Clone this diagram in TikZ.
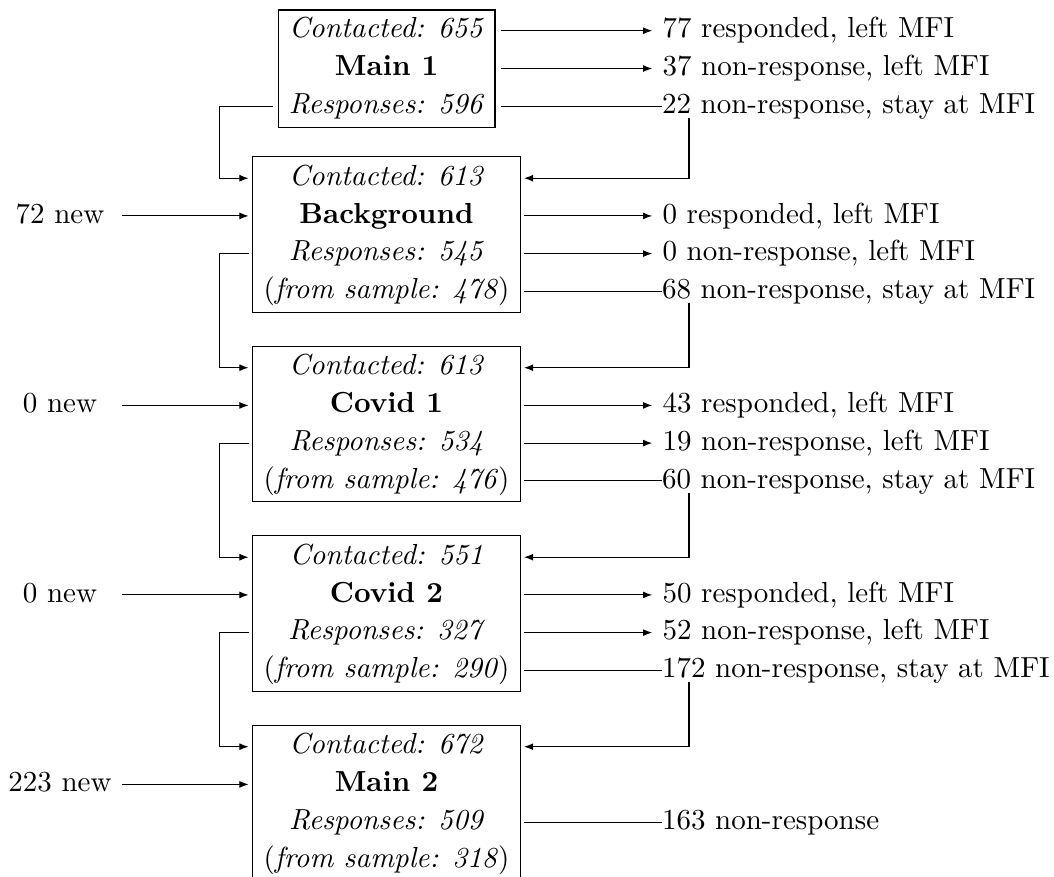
\documentclass[tikz,border=0pt]{standalone}
\usetikzlibrary{arrows.meta,calc}
\begin{document}
\begin{tikzpicture}[x=0.34483pt,y=-0.34483pt,
  >={Latex[length=3.2pt,width=2.4pt]},
  box/.style={draw, line width=0.4pt, inner sep=0pt, minimum width=92.59pt, minimum height=53.62pt},
  firstbox/.style={draw, line width=0.4pt, inner sep=0pt, minimum width=74.73pt, minimum height=40.45pt},
  rowtext/.style={inner sep=0pt, text height=7pt, text depth=2pt},
  outlab/.style={anchor=west, text height=7pt, text depth=2pt},
  staylab/.style={anchor=west, inner sep=0pt, text height=7pt, text depth=2pt},
  newlab/.style={inner sep=0pt, text height=7pt, text depth=2pt, minimum width=42.07pt},
  conn/.style={line width=0.4pt}]
\useasboundingbox (0,0) rectangle (1054,876);

% ---------- boxes ----------
\node[firstbox] (b1) at (386.6,68.65) {};
\node[box] (b2) at (386.5,234.45) {};
\node[box] (b3) at (386.5,423.95) {};
\node[box] (b4) at (386.5,613.45) {};
\node[box] (b5) at (386.5,802.95) {};

% ---------- box rows ----------
\node[rowtext] (b1a) at (386.6,30.7) {\textit{Contacted: 655}};
\node[rowtext] (b1b) at (386.6,68.5) {\textbf{Main 1}};
\node[rowtext] (b1c) at (386.6,106.3) {\textit{Responses: 596}};

\node[rowtext] (b2a) at (386.5,178.2) {\textit{Contacted: 613}};
\node[rowtext] (b2b) at (386.5,215.9) {\textbf{Background}};
\node[rowtext] (b2c) at (386.5,253.6) {\textit{Responses: 545}};
\node[rowtext] (b2d) at (386.5,291.3) {(\textit{from sample: 478})};

\node[rowtext] (b3a) at (386.5,367.7) {\textit{Contacted: 613}};
\node[rowtext] (b3b) at (386.5,405.4) {\textbf{Covid 1}};
\node[rowtext] (b3c) at (386.5,443.1) {\textit{Responses: 534}};
\node[rowtext] (b3d) at (386.5,480.8) {(\textit{from sample: 476})};

\node[rowtext] (b4a) at (386.5,557.2) {\textit{Contacted: 551}};
\node[rowtext] (b4b) at (386.5,594.9) {\textbf{Covid 2}};
\node[rowtext] (b4c) at (386.5,632.6) {\textit{Responses: 327}};
\node[rowtext] (b4d) at (386.5,670.3) {(\textit{from sample: 290})};

\node[rowtext] (b5a) at (386.5,746.7) {\textit{Contacted: 672}};
\node[rowtext] (b5b) at (386.5,784.4) {\textbf{Main 2}};
\node[rowtext] (b5c) at (386.5,822.1) {\textit{Responses: 509}};
\node[rowtext] (b5d) at (386.5,859.8) {(\textit{from sample: 318})};

% ---------- right labels ----------
\node[outlab] (o1a) at (652.3,30.7) {77 responded, left MFI};
\node[outlab] (o1b) at (652.3,68.5) {37 non-response, left MFI};
\node[staylab] (o1c) at (661.5,106.3) {22 non-response, stay at MFI};

\node[outlab] (o2b) at (652.3,215.9) {0 responded, left MFI};
\node[outlab] (o2c) at (652.3,253.6) {0 non-response, left MFI};
\node[staylab] (o2d) at (661.5,291.3) {68 non-response, stay at MFI};

\node[outlab] (o3b) at (652.3,405.4) {43 responded, left MFI};
\node[outlab] (o3c) at (652.3,443.1) {19 non-response, left MFI};
\node[staylab] (o3d) at (661.5,480.8) {60 non-response, stay at MFI};

\node[outlab] (o4b) at (652.3,594.9) {50 responded, left MFI};
\node[outlab] (o4c) at (652.3,632.6) {52 non-response, left MFI};
\node[staylab] (o4d) at (661.5,670.3) {172 non-response, stay at MFI};

\node[staylab] (o5c) at (661.5,822.1) {163 non-response};

% ---------- left labels ----------
\node[newlab] (n2) at (60,215.9) {72 new};
\node[newlab] (n3) at (60,405.4) {0 new};
\node[newlab] (n4) at (60,594.9) {0 new};
\node[newlab] (n5) at (60,784.4) {223 new};

% ---------- outgoing to the right ----------
\draw[conn,->] ($(b1.east |- b1a)+(5,0)$) -- (o1a.west);
\draw[conn,->] ($(b1.east |- b1b)+(5,0)$) -- (o1b.west);
\draw[conn]    ($(b1.east |- b1c)+(5,0)$) -- (o1c.west);

\draw[conn,->] ($(b2.east |- b2b)+(2.6,0)$) -- (o2b.west);
\draw[conn,->] ($(b2.east |- b2c)+(2.6,0)$) -- (o2c.west);
\draw[conn]    ($(b2.east |- b2d)+(2.6,0)$) -- (o2d.west);

\draw[conn,->] ($(b3.east |- b3b)+(2.6,0)$) -- (o3b.west);
\draw[conn,->] ($(b3.east |- b3c)+(2.6,0)$) -- (o3c.west);
\draw[conn]    ($(b3.east |- b3d)+(2.6,0)$) -- (o3d.west);

\draw[conn,->] ($(b4.east |- b4b)+(2.6,0)$) -- (o4b.west);
\draw[conn,->] ($(b4.east |- b4c)+(2.6,0)$) -- (o4c.west);
\draw[conn]    ($(b4.east |- b4d)+(2.6,0)$) -- (o4d.west);

\draw[conn]    ($(b5.east |- b5c)+(2.6,0)$) -- (o5c.west);

% ---------- returns on the right ----------
\draw[conn,->] ($(o1c.south west)+(27.5,-1.5)$) |- ($(b2.east |- b2a)+(2.6,0)$);
\draw[conn,->] ($(o2d.south west)+(27.5,-1.5)$) |- ($(b3.east |- b3a)+(2.6,0)$);
\draw[conn,->] ($(o3d.south west)+(27.5,-1.5)$) |- ($(b4.east |- b4a)+(2.6,0)$);
\draw[conn,->] ($(o4d.south west)+(27.5,-1.5)$) |- ($(b5.east |- b5a)+(2.6,0)$);

% ---------- continuing on the left ----------
\draw[conn,->] ($(b1.west |- b1c)+(-5,0)$) -- ++(-53.3,0) |- ($(b2.west |- b2a)+(-3,0)$);
\draw[conn,->] ($(b2.west |- b2c)+(-2.3,0)$) -- ++(-30,0) |- ($(b3.west |- b3a)+(-3,0)$);
\draw[conn,->] ($(b3.west |- b3c)+(-2.3,0)$) -- ++(-30,0) |- ($(b4.west |- b4a)+(-3,0)$);
\draw[conn,->] ($(b4.west |- b4c)+(-2.3,0)$) -- ++(-30,0) |- ($(b5.west |- b5a)+(-3,0)$);

% ---------- new entrants ----------
\draw[conn,->] (n2.east) -- ($(b2.west |- n2)+(-3,0)$);
\draw[conn,->] (n3.east) -- ($(b3.west |- n3)+(-3,0)$);
\draw[conn,->] (n4.east) -- ($(b4.west |- n4)+(-3,0)$);
\draw[conn,->] (n5.east) -- ($(b5.west |- n5)+(-3,0)$);
\end{tikzpicture}
\end{document}
